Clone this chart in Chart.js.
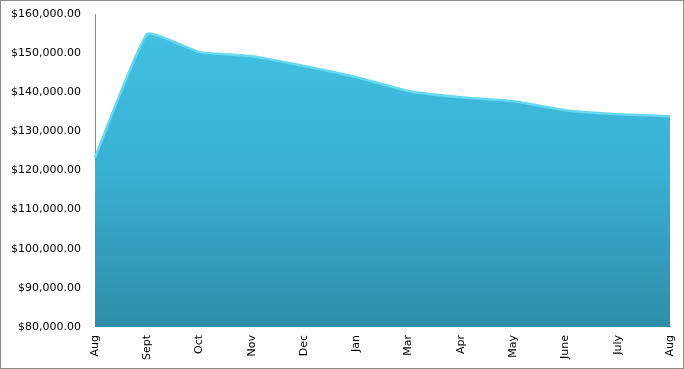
<!DOCTYPE html>
<html>
<head>
<meta charset="utf-8">
<script src="https://cdn.jsdelivr.net/npm/chart.js@4"></script>
<style>
  html, body { margin: 0; padding: 0; background: #fff; }
  #wrap { width: 682px; height: 367px; border: 1px solid #8c8c8c; position: relative; }
</style>
</head>
<body>
<div id="wrap"><canvas id="chart" width="682" height="367"></canvas></div>
<script>
// months on the x axis
const months = ["Aug", "Sept", "Oct", "Nov", "Dec", "Jan", "Mar", "Apr", "May", "June", "July", "Aug"];
// values
const balance = [123300, 154900, 150250, 149200, 146700, 143850, 140250, 138700, 137700, 135400, 134350, 133850];
// y axis range
const yMin = 80000;
const yMax = 160000;
const yStep = 10000;

const fmt = (v) => "$" + v.toLocaleString("en-US", { minimumFractionDigits: 2, maximumFractionDigits: 2 });

const ctx = document.getElementById("chart").getContext("2d");
new Chart(ctx, {
  type: "line",
  data: {
    labels: months,
    datasets: [
      {
        data: balance,
        fill: "start",
        borderColor: "#66d8f0",
        borderWidth: 2.5,
        tension: 0.12,
        pointRadius: 0,
        backgroundColor: (c) => {
          const area = c.chart.chartArea;
          if (!area) return "#3db8d8";
          const g = c.chart.ctx.createLinearGradient(0, area.top, 0, area.bottom);
          g.addColorStop(0, "#41c2e3");
          g.addColorStop(0.5, "#3ab0d3");
          g.addColorStop(1, "#2e8ea8");
          return g;
        },
      },
    ],
  },
  options: {
    responsive: false,
    animation: false,
    layout: { padding: { top: 13, right: 13, left: 0, bottom: 0 } },
    plugins: { legend: { display: false }, tooltip: { enabled: false } },
    scales: {
      x: {
        offset: false,
        afterFit: (axis) => { axis.paddingRight = 0; axis.paddingLeft = 0; },
        grid: { display: false, drawTicks: false },
        border: { display: true, color: "#8c8c8c", width: 1 },
        ticks: {
          color: "#000",
          font: { family: "DejaVu Sans", size: 11 },
          minRotation: 90,
          maxRotation: 90,
          padding: 8,
        },
      },
      y: {
        min: yMin,
        max: yMax,
        afterFit: (axis) => { axis.width = 94; axis.paddingTop = 0; axis.paddingBottom = 0; },
        grid: { display: false, drawTicks: false },
        border: { display: true, color: "#8c8c8c", width: 1 },
        ticks: {
          stepSize: yStep,
          color: "#000",
          font: { family: "DejaVu Sans", size: 11 },
          padding: 14,
          callback: (v) => fmt(v),
        },
      },
    },
  },
});
</script>
</body>
</html>
